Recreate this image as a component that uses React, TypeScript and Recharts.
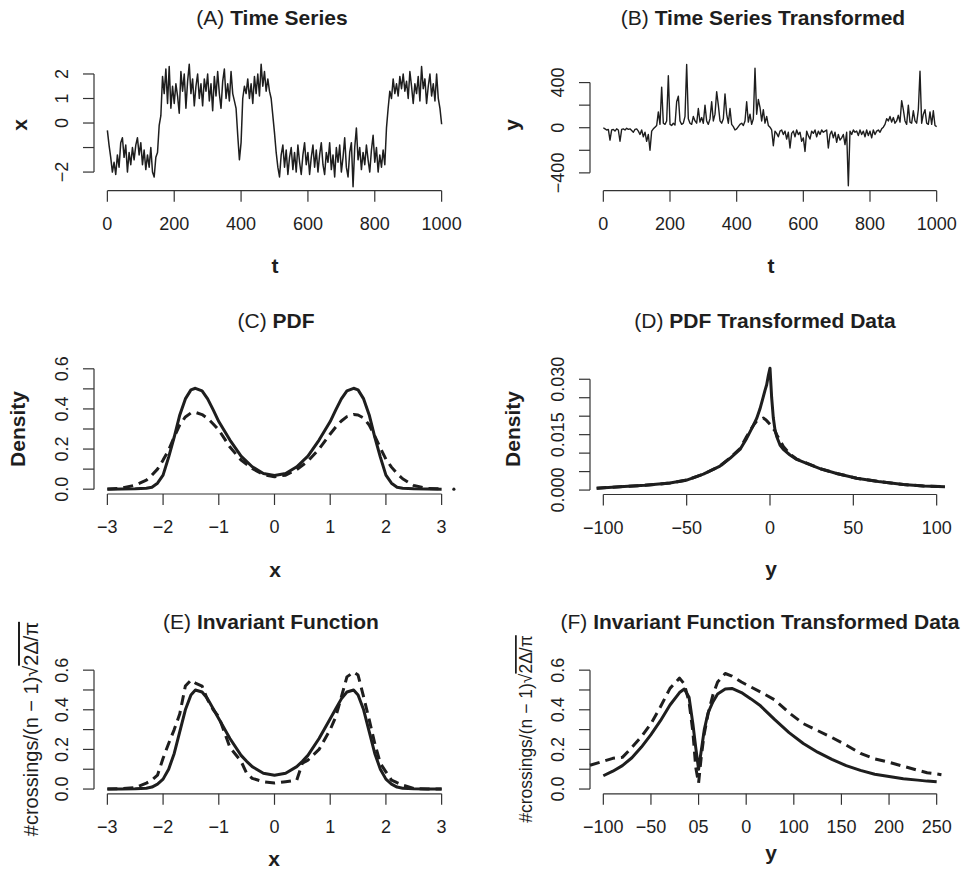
import React from 'react'
import { ComposedChart, Line, XAxis, YAxis, ReferenceLine, ReferenceDot } from 'recharts'

const FONT = '"Liberation Sans", Arial, Helvetica, sans-serif'
const INK = '#1e1e1e'
const AXIS = '#333333'

// (A) time series x(t), read every 5 steps of t
const T_STEP = 5
const seriesX = [
  -0.3, -0.9, -1.4, -2.0, -1.6, -2.1, -1.3, -1.8, -0.8, -0.6, -1.4, -0.9, -2.0, -1.2, -1.7, -1.0,
  -1.5, -0.9, -0.6, -1.3, -0.8, -1.7, -1.1, -1.9, -1.3, -1.8, -1.0, -2.0, -2.2, -1.4, -1.2,
  -0.1, 0.3, 1.9, 1.2, 2.2, 0.8, 2.3, 0.6, 1.5, 0.8, 1.6, 1.1, 0.4, 2.1, 1.3, 2.0, 0.6, 1.7, 2.4,
  1.2, 1.8, 0.7, 1.5, 2.0, 1.0, 1.6, 0.7, 1.8, 1.3, 2.0,
  0.9, 1.6, 0.5, 1.9, 1.1, 2.1, 1.2, 0.6, 1.7, 2.2, 1.0, 1.6, 0.9, 2.1, 1.2, 0.9, 0.6, -0.5, -1.5,
  -0.8, 1.0, 1.5, 1.2, 1.8, 1.0, 1.6, 0.8, 1.9, 1.2, 2.0,
  1.1, 2.4, 1.5, 2.1, 1.3, 1.8, 1.3, 1.0, 0.3, -0.4, -1.2, -1.8, -2.2, -1.3, -0.9, -1.8, -1.1, -2.1,
  -1.4, -1.0, -1.9, -1.2, -2.0, -0.9, -1.6, -2.1, -1.3, -0.8, -1.7, -1.2,
  -2.1, -1.4, -0.9, -1.8, -1.1, -2.0, -1.3, -0.8, -1.7, -2.1, -1.2, -1.6, -0.8, -1.9, -1.3, -2.2,
  -1.0, -1.6, -0.9, -2.0, -1.4, -0.6, -1.8, -2.2, -1.2, -0.8, -2.6, -1.0, -0.2, -1.5,
  -1.0, -1.9, -1.2, -1.7, -0.9, -1.5, -2.0, -1.1, -0.5, -1.6, -1.0, -2.0, -1.3, -1.8, -1.1, -1.7,
  -0.2, 0.6, 1.3, 1.0, 1.8, 1.2, 1.6, 1.1, 1.9, 1.4, 2.0, 1.3, 1.7, 1.0,
  2.1, 1.5, 0.8, 1.6, 1.2, 1.9, 0.9, 2.3, 1.4, 1.8, 0.8, 1.5, 2.0, 1.1, 1.6, 0.9, 2.0, 1.0, 0.6, -0.05,
]

// (B) transformed series y(t), same t grid
const seriesY = [
  0, -10, -20, -15, -110, -20, -15, -30, -10, -20, -120, -15, -10, -20, -5, -15, -10, -25, -40, -15,
  -10, -30, -60, -20, -80, -40, -120, -60, -200, -30, -10,
  5, 20, 140, 30, 360, 40, 30, 60, 460, 30, 20, 40, 25, 230, 280, 60, 30, 40, 100, 560, 80, 40, 30,
  100, 60, 40, 170, 50, 90, 40,
  200, 60, 30, 80, 230, 60, 120, 320, 200, 60, 40, 80, 300, 120, 40, 170, 30, 10, -20, -10, 10, 30,
  40, 20, 60, 230, 50, 120, 30, 80,
  527, 120, 250, 180, 60, 160, 40, 100, 20, 5, -20, -160, -30, -50, -80, -30, -20, -60, -30, -100,
  -40, -180, -50, -30, -80, -20, -60, -40, -120, -90,
  -210, -30, -70, -100, -30, -50, -20, -80, -30, -60, -20, -40, -30, -20, -180, -60, -30, -90, -40,
  -130, -60, -110, -90, -60, -150, -40, -515, -30, -60, -20,
  -40, -30, -70, -20, -60, -30, -80, -20, -70, -30, -90, -20, -60, -30, -20, -40, -10, 5, 30, 80,
  60, 100, 50, 90, 40, 60, 110, 50, 240, 160,
  60, 30, 200, 50, 40, 150, 60, 40, 160, 500, 40, 120, 160, 40, 30, 140, 30, 150, 20, 10,
]

// (C) PDF
const pdfGrid = [
  -3, -2.75, -2.5, -2.3, -2.2, -2.1, -2, -1.9, -1.8, -1.7, -1.6, -1.5, -1.42, -1.3, -1.2, -1.1, -1,
  -0.8, -0.6, -0.4, -0.2, 0, 0.2, 0.4, 0.6, 0.8, 1, 1.1, 1.2, 1.3, 1.42, 1.5, 1.6, 1.7, 1.8, 1.9, 2,
  2.1, 2.2, 2.3, 2.5, 2.75, 3,
]
const pdfTrue = [
  0, 0.001, 0.002, 0.005, 0.01, 0.03, 0.07, 0.16, 0.26, 0.37, 0.45, 0.495, 0.503, 0.49, 0.45, 0.395,
  0.337, 0.245, 0.165, 0.112, 0.078, 0.068, 0.078, 0.112, 0.165, 0.245, 0.337, 0.395, 0.45, 0.49,
  0.503, 0.495, 0.45, 0.37, 0.26, 0.16, 0.07, 0.03, 0.01, 0.005, 0.002, 0.001, 0,
]
const pdfEst = [
  0.001, 0.005, 0.02, 0.045, 0.07, 0.1, 0.145, 0.195, 0.26, 0.32, 0.36, 0.38, 0.383, 0.372, 0.353,
  0.325, 0.295, 0.21, 0.145, 0.103, 0.073, 0.062, 0.07, 0.098, 0.14, 0.2, 0.275, 0.31, 0.34, 0.362,
  0.372, 0.37, 0.355, 0.32, 0.265, 0.205, 0.15, 0.11, 0.078, 0.052, 0.018, 0.004, 0.001,
]
const pdfStray = { x: 3.22, y: 0 }

// (D) PDF of the transformed data
const pdfYGrid = [
  -104, -90, -75, -60, -50, -40, -30, -24, -18, -14, -10, -8, -6, -4, -3, -2, -1, 0, 1, 2, 3, 4, 6,
  8, 12, 16, 22, 30, 40, 52, 65, 80, 92, 105,
]
const pdfYTrue = [
  0.0005, 0.0009, 0.0013, 0.0019, 0.0027, 0.0043, 0.0065, 0.0086, 0.011, 0.014, 0.0175, 0.0194,
  0.022, 0.0253, 0.027, 0.0285, 0.031, 0.033, 0.025, 0.0195, 0.0163, 0.0145, 0.0122, 0.011, 0.0095,
  0.0083, 0.0072, 0.0058, 0.0045, 0.0032, 0.0023, 0.0015, 0.0011, 0.0009,
]
const pdfYEst = [
  0.0005, 0.0009, 0.0013, 0.0019, 0.0027, 0.0043, 0.0065, 0.0087, 0.0112, 0.0145, 0.0175, 0.0187,
  0.019, 0.0195, 0.0192, 0.0188, 0.0183, 0.0178, 0.0172, 0.0166, 0.016, 0.015, 0.0135, 0.0118,
  0.0097, 0.0084, 0.0073, 0.0058, 0.0045, 0.0032, 0.0023, 0.0015, 0.0011, 0.0009,
]

// (E) invariant function
const invGrid = [
  -3, -2.75, -2.5, -2.3, -2.2, -2.1, -2, -1.9, -1.8, -1.7, -1.6, -1.5, -1.42, -1.3, -1.2, -1.1, -1,
  -0.8, -0.6, -0.5, -0.4, -0.2, 0, 0.2, 0.4, 0.5, 0.6, 0.8, 1, 1.1, 1.2, 1.3, 1.42, 1.5, 1.6, 1.7,
  1.8, 1.9, 2, 2.1, 2.2, 2.3, 2.5, 2.75, 3,
]
const invTrue = [
  0, 0, 0.001, 0.004, 0.01, 0.025, 0.05, 0.1, 0.18, 0.29, 0.4, 0.475, 0.5, 0.49, 0.455, 0.405, 0.355,
  0.255, 0.17, 0.14, 0.113, 0.08, 0.07, 0.08, 0.113, 0.14, 0.17, 0.255, 0.355, 0.405, 0.455, 0.49,
  0.5, 0.475, 0.4, 0.29, 0.18, 0.1, 0.05, 0.025, 0.01, 0.004, 0.001, 0, 0,
]
const invEst = [
  0, 0.002, 0.007, 0.03, 0.045, 0.07, 0.155, 0.23, 0.3, 0.38, 0.52, 0.55, 0.535, 0.52, 0.45, 0.4,
  0.365, 0.21, 0.14, 0.08, 0.054, 0.037, 0.03, 0.037, 0.045, 0.13, 0.146, 0.2, 0.3, 0.365, 0.465,
  0.566, 0.59, 0.575, 0.465, 0.35, 0.23, 0.13, 0.087, 0.045, 0.032, 0.02, 0.003, 0, 0,
]

// (F) invariant function of the transformed data
const invYGrid = [
  -114, -100, -90, -80, -70, -60, -50, -40, -30, -20, -15, -10, -6, -3, 0, 3, 6, 10, 15, 20, 28, 35,
  45, 55, 65, 80, 95, 110, 125, 140, 155, 170, 185, 200, 215, 230, 240, 250, 255,
]
const invYTrue = [
  null, 0.067, 0.09, 0.118, 0.158, 0.212, 0.275, 0.345, 0.424, 0.487, 0.505, 0.463, 0.33, 0.21, 0.1,
  0.2, 0.3, 0.385, 0.44, 0.48, 0.505, 0.508, 0.487, 0.455, 0.42, 0.35, 0.285, 0.23, 0.186, 0.15,
  0.118, 0.094, 0.075, 0.063, 0.052, 0.045, 0.04, 0.037, null,
]
const invYEst = [
  0.12, 0.14, 0.155, 0.16, 0.21, 0.264, 0.33, 0.415, 0.508, 0.56, 0.53, 0.44, 0.29, 0.11, 0.03,
  0.171, 0.28, 0.38, 0.474, 0.54, 0.583, 0.57, 0.54, 0.515, 0.49, 0.45, 0.385, 0.33, 0.295, 0.26,
  0.222, 0.18, 0.152, 0.135, 0.115, 0.095, 0.082, 0.076, 0.072,
]

// axis ticks and their printed labels
const tTicks = [0, 200, 400, 600, 800, 1000]
const tLabels = ['0', '200', '400', '600', '800', '1000']
const xTicksA = [-2, -1, 0, 1, 2]
const xLabelsA = ['−2', '', '0', '1', '2']
const yTicksB = [-400, -200, 0, 200, 400]
const yLabelsB = ['−400', '', '0', '', '400']
const unitTicks = [-3, -2, -1, 0, 1, 2, 3]
const unitLabels = ['−3', '−2', '−1', '0', '1', '2', '3']
const densTicks = [0, 0.1, 0.2, 0.3, 0.4, 0.5, 0.6]
const densLabels = ['0.0', '', '0.2', '', '0.4', '', '0.6']
const yTicksD = [-100, -50, 0, 50, 100]
const yLabelsD = ['−100', '−50', '0', '50', '100']
const densTicksD = [0, 0.005, 0.01, 0.015, 0.02, 0.025, 0.03]
const densLabelsD = ['0.000', '', '', '0.015', '', '', '0.030']
const yTicksF = [-100, -50, 0, 50, 100, 150, 200, 250]
const yLabelsF = ['−100', '−50', '05', '0', '100', '150', '200', '250']

const labelOf = (ticks: number[], labels: string[]) => (v: number) => {
  const i = ticks.findIndex((t) => Math.abs(t - v) < 1e-9)
  return i >= 0 ? labels[i] : ''
}

function XTick({ x, y, payload, fmt }: any) {
  return (
    <text x={x} y={y + 28} textAnchor="middle" fontFamily={FONT} fontSize={18} fill={INK}>
      {fmt(payload.value)}
    </text>
  )
}

function YTick({ x, y, payload, fmt }: any) {
  const bx = x - 15
  return (
    <text
      x={bx}
      y={y}
      transform={`rotate(-90 ${bx} ${y})`}
      textAnchor="middle"
      fontFamily={FONT}
      fontSize={18}
      fill={INK}
    >
      {fmt(payload.value)}
    </text>
  )
}

interface PanelProps {
  box: { left: number; top: number; width: number; height: number }
  plot: { left: number; top: number; right: number; bottom: number }
  data: any[]
  xDomain: [number, number]
  xTicks: number[]
  xLabels: string[]
  yDomain: [number, number]
  yTicks: number[]
  yLabels: string[]
  series: { key: string; width: number; dash?: string }[]
  dot?: { x: number; y: number }
}

function Panel({ box, plot, data, xDomain, xTicks, xLabels, yDomain, yTicks, yLabels, series, dot }: PanelProps) {
  const xFmt = labelOf(xTicks, xLabels)
  const yFmt = labelOf(yTicks, yLabels)
  return (
    <div style={{ position: 'absolute', left: box.left, top: box.top }}>
      <ComposedChart
        width={box.width}
        height={box.height}
        data={data}
        margin={{ top: plot.top - box.top, right: box.left + box.width - plot.right, left: 0, bottom: 0 }}
      >
        <XAxis
          dataKey="x"
          type="number"
          domain={xDomain}
          ticks={xTicks}
          interval={0}
          height={box.top + box.height - plot.bottom}
          axisLine={false}
          tickLine={{ stroke: AXIS, strokeWidth: 1.2 }}
          tickSize={11}
          tickMargin={0}
          tick={(p: any) => <XTick {...p} fmt={xFmt} />}
        />
        <YAxis
          type="number"
          domain={yDomain}
          ticks={yTicks}
          interval={0}
          width={plot.left - box.left}
          axisLine={false}
          tickLine={{ stroke: AXIS, strokeWidth: 1.2 }}
          tickSize={11}
          tickMargin={0}
          tick={(p: any) => <YTick {...p} fmt={yFmt} />}
        />
        <ReferenceLine
          segment={[
            { x: xTicks[0], y: yDomain[0] },
            { x: xTicks[xTicks.length - 1], y: yDomain[0] },
          ]}
          stroke={AXIS}
          strokeWidth={1.2}
          ifOverflow="visible"
        />
        <ReferenceLine
          segment={[
            { x: xDomain[0], y: yTicks[0] },
            { x: xDomain[0], y: yTicks[yTicks.length - 1] },
          ]}
          stroke={AXIS}
          strokeWidth={1.2}
          ifOverflow="visible"
        />
        {series.map((s) => (
          <Line
            key={s.key}
            dataKey={s.key}
            type="linear"
            stroke={INK}
            strokeWidth={s.width}
            strokeDasharray={s.dash}
            strokeLinejoin="round"
            dot={false}
            activeDot={false}
            connectNulls
            isAnimationActive={false}
          />
        ))}
        {dot && <ReferenceDot x={dot.x} y={dot.y} r={1.6} fill={INK} stroke="none" ifOverflow="visible" />}
      </ComposedChart>
    </div>
  )
}

const dataA = seriesX.map((v, i) => ({ x: i * T_STEP, s: v }))
const dataB = seriesY.map((v, i) => ({ x: i * T_STEP, s: v }))
const dataC = pdfGrid.map((x, i) => ({ x, s: pdfTrue[i], d: pdfEst[i] }))
const dataD = pdfYGrid.map((x, i) => ({ x, s: pdfYTrue[i], d: pdfYEst[i] }))
const dataE = invGrid.map((x, i) => ({ x, s: invTrue[i], d: invEst[i] }))
const dataF = invYGrid.map((x, i) => ({ x, s: invYTrue[i], d: invYEst[i] }))

const thinA = [{ key: 's', width: 1.5 }]
const thinB = [{ key: 's', width: 1.4 }]
const pair = [
  { key: 'd', width: 3, dash: '10 6' },
  { key: 's', width: 3 },
]

function Title({ x, y, tag, text }: { x: number; y: number; tag: string; text: string }) {
  return (
    <text x={x} y={y} textAnchor="middle" fontFamily={FONT} fontSize={21} fill={INK}>
      <tspan>{`(${tag}) `}</tspan>
      <tspan fontWeight="bold">{text}</tspan>
    </text>
  )
}

function VLabel({ x, y, size, bold, children }: any) {
  return (
    <text
      x={x}
      y={y}
      transform={`rotate(-90 ${x} ${y})`}
      textAnchor="middle"
      fontFamily={FONT}
      fontSize={size}
      fontWeight={bold ? 'bold' : 'normal'}
      fill={INK}
    >
      {children}
    </text>
  )
}

function HLabel({ x, y, children }: any) {
  return (
    <text x={x} y={y} textAnchor="middle" fontFamily={FONT} fontSize={21} fontWeight="bold" fill={INK}>
      {children}
    </text>
  )
}

function Crossings() {
  return (
    <>
      {'#crossings/(n − 1)'}
      <tspan>√</tspan>
      <tspan style={{ textDecoration: 'overline' }}>2Δ/π</tspan>
    </>
  )
}

export default function App() {
  return (
    <div style={{ position: 'absolute', left: 0, top: 0, width: 969, height: 872, background: '#fff' }}>
      <Panel
        box={{ left: 0, top: 0, width: 480, height: 300 }}
        plot={{ left: 94, top: 60, right: 455, bottom: 190.7 }}
        data={dataA}
        xDomain={[-40, 1040]}
        xTicks={tTicks}
        xLabels={tLabels}
        yDomain={[-2.76, 2.57]}
        yTicks={xTicksA}
        yLabels={xLabelsA}
        series={thinA}
      />
      <Panel
        box={{ left: 480, top: 0, width: 489, height: 300 }}
        plot={{ left: 590, top: 60, right: 950, bottom: 190.7 }}
        data={dataB}
        xDomain={[-40, 1040]}
        xTicks={tTicks}
        xLabels={tLabels}
        yDomain={[-558, 600]}
        yTicks={yTicksB}
        yLabels={yLabelsB}
        series={thinB}
      />
      <Panel
        box={{ left: 0, top: 300, width: 480, height: 300 }}
        plot={{ left: 94, top: 364, right: 455, bottom: 494 }}
        data={dataC}
        xDomain={[-3.24, 3.24]}
        xTicks={unitTicks}
        xLabels={unitLabels}
        yDomain={[-0.024, 0.624]}
        yTicks={densTicks}
        yLabels={densLabels}
        series={pair}
        dot={pdfStray}
      />
      <Panel
        box={{ left: 480, top: 300, width: 489, height: 300 }}
        plot={{ left: 590, top: 363, right: 950, bottom: 494.5 }}
        data={dataD}
        xDomain={[-108, 108]}
        xTicks={yTicksD}
        xLabels={yLabelsD}
        yDomain={[-0.0012, 0.0344]}
        yTicks={densTicksD}
        yLabels={densLabelsD}
        series={pair}
      />
      <Panel
        box={{ left: 0, top: 600, width: 480, height: 272 }}
        plot={{ left: 94, top: 665.4, right: 455, bottom: 793.8 }}
        data={dataE}
        xDomain={[-3.24, 3.24]}
        xTicks={unitTicks}
        xLabels={unitLabels}
        yDomain={[-0.024, 0.624]}
        yTicks={densTicks}
        yLabels={densLabels}
        series={pair}
      />
      <Panel
        box={{ left: 480, top: 600, width: 489, height: 272 }}
        plot={{ left: 590, top: 665.4, right: 950, bottom: 793.8 }}
        data={dataF}
        xDomain={[-114, 264]}
        xTicks={yTicksF}
        xLabels={yLabelsF}
        yDomain={[-0.024, 0.624]}
        yTicks={densTicks}
        yLabels={densLabels}
        series={pair}
      />
      <svg
        width={969}
        height={872}
        style={{ position: 'absolute', left: 0, top: 0, pointerEvents: 'none', overflow: 'visible' }}
      >
        <Title x={272} y={25} tag="A" text="Time Series" />
        <Title x={763} y={25} tag="B" text="Time Series Transformed" />
        <Title x={276} y={328} tag="C" text="PDF" />
        <Title x={765} y={328} tag="D" text="PDF Transformed Data" />
        <Title x={271} y={629} tag="E" text="Invariant Function" />
        <Title x={760} y={629} tag="F" text="Invariant Function Transformed Data" />

        <HLabel x={275} y={273}>t</HLabel>
        <HLabel x={771} y={273}>t</HLabel>
        <HLabel x={275} y={577}>x</HLabel>
        <HLabel x={771} y={576}>y</HLabel>
        <HLabel x={274} y={866}>x</HLabel>
        <HLabel x={771} y={860}>y</HLabel>

        <VLabel x={27} y={125} size={21} bold>x</VLabel>
        <VLabel x={519} y={125} size={21} bold>y</VLabel>
        <VLabel x={25} y={429} size={21} bold>Density</VLabel>
        <VLabel x={520} y={429} size={21} bold>Density</VLabel>
        <VLabel x={38} y={729} size={20}>
          <Crossings />
        </VLabel>
        <VLabel x={532} y={729} size={17.5}>
          <Crossings />
        </VLabel>
      </svg>
    </div>
  )
}
